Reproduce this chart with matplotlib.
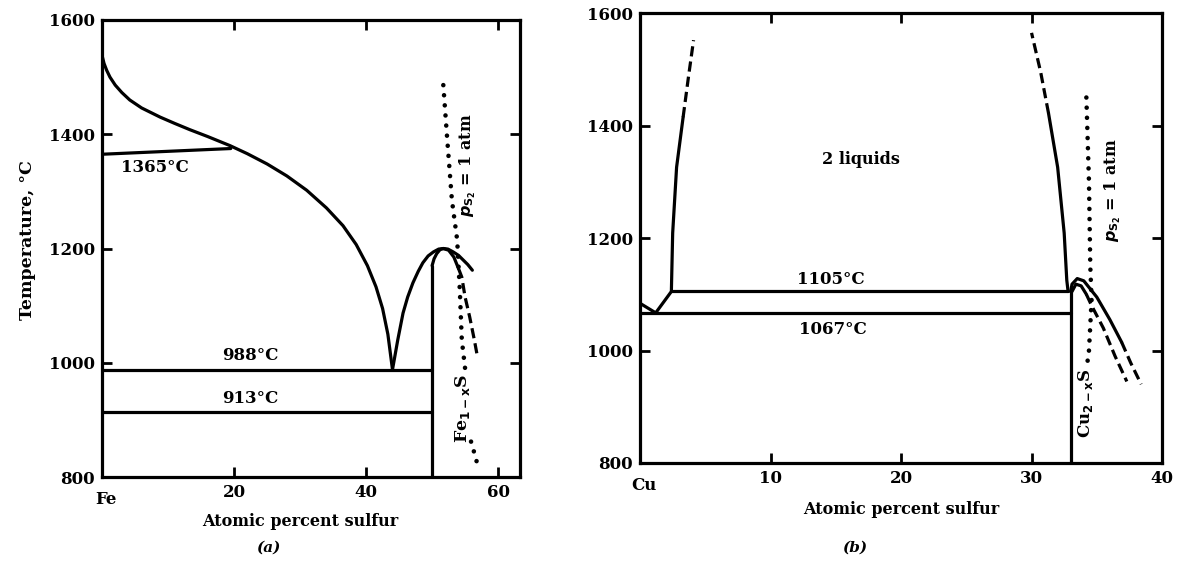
import numpy as np
import matplotlib.pyplot as plt

plt.rcParams['font.family'] = ['DejaVu Serif']
plt.rcParams['font.weight'] = 'bold'

# ---- (a) Fe-S ----
fe_liq_x = [0, 0.3, 0.7, 1.2, 2, 3, 4.2, 6, 8.8, 11, 13.3, 16, 19.4, 22, 25, 28,
            31, 34, 36.5, 38.5, 40.2, 41.5, 42.5, 43.3, 44]
fe_liq_t = [1538, 1524, 1512, 1500, 1486, 1473, 1460, 1446, 1430, 1419, 1408, 1396,
            1380, 1366, 1348, 1327, 1302, 1271, 1240, 1207, 1170, 1133, 1095, 1050, 988]
fes_liq_x = [44, 44.8, 45.6, 46.3, 47.1, 47.9, 48.6, 49.4, 50.2, 51, 51.7,
             52.4, 53.2, 54, 54.7, 55.4, 56.1]
fes_liq_t = [988, 1040, 1087, 1115, 1140, 1160, 1175, 1187, 1194, 1199, 1200,
             1199, 1194, 1188, 1180, 1172, 1162]
fes_sol_x = [50, 50.3, 50.7, 51.2, 51.7]
fes_sol_t = [1170, 1182, 1191, 1198, 1200]
fes_right_x = [51.7, 52.5, 53.3, 54.0]
fes_right_t = [1200, 1197, 1185, 1165]
fes_right_dash_x = [54.0, 54.5, 55.0, 55.7, 56.4, 56.8]
fes_right_dash_t = [1165, 1150, 1115, 1080, 1040, 1015]
fe_iso_t = [1365, 988, 913]
fe_iso_x0 = [0, 0, 0]
fe_iso_x1 = [19.5, 50, 50]
fe_iso_t1 = [1375, 988, 913]
fes_x = 50
fes_top = 1170
fe_ps2_x = [51.7, 52.3, 53.0, 53.8, 54.2, 54.5, 55.0]
fe_ps2_t = [1486, 1390, 1285, 1215, 1127, 1040, 990]
fe_ps2_low_x = [55.9, 56.7, 57.0]
fe_ps2_low_t = [862, 830, 812]

# ---- (b) Cu-S ----
cu_left_x = [0, 1.2, 2.4, 2.5, 2.8, 3.3]
cu_left_t = [1084, 1067, 1105, 1209, 1326, 1415]
cu_left_dash_x = [3.3, 3.7, 4.1]
cu_left_dash_t = [1415, 1485, 1552]
cu_right_x = [32.8, 32.7, 32.5, 32.0, 31.3]
cu_right_t = [1105, 1125, 1209, 1326, 1422]
cu_right_dash_x = [31.3, 30.7, 30.0]
cu_right_dash_t = [1422, 1495, 1565]
cu_iso_t = [1105, 1067]
cu_iso_x0 = [2.4, 0]
cu_iso_x1 = [32.8, 33.0]
cu2s_x = 33.0
cu2s_top = 1110
cu2s_liq_x = [33.0, 33.1, 33.5, 34.0, 35.0, 36.0, 36.9]
cu2s_liq_t = [1105, 1118, 1128, 1124, 1095, 1055, 1015]
cu2s_liq_dash_x = [36.9, 37.6, 38.4]
cu2s_liq_dash_t = [1015, 978, 940]
cu2s_sol_x = [33.1, 33.4, 33.8, 34.2]
cu2s_sol_t = [1105, 1118, 1115, 1100]
cu2s_sol_dash_x = [34.2, 34.6, 35.5, 36.4, 37.3]
cu2s_sol_dash_t = [1100, 1080, 1040, 990, 945]
cu_ps2_x = [34.2, 34.4, 34.5, 34.6, 34.4, 34.2]
cu_ps2_t = [1450, 1300, 1150, 1090, 1000, 965]

lw = 2.3
dots = dict(color='black', lw=3.3, linestyle=(0, (0.01, 2.2)), dash_capstyle='round')
dashes = dict(color='black', lw=lw, linestyle=(0, (3.2, 1.6)))
solid = dict(color='black', lw=lw, solid_capstyle='round', solid_joinstyle='round')

fig = plt.figure(figsize=(11.77, 5.73), dpi=100)
ax1 = fig.add_axes([0.0867, 0.1675, 0.355, 0.7976])
ax2 = fig.add_axes([0.5438, 0.192, 0.4435, 0.785])

# panel (a)
ax1.plot(fe_liq_x, fe_liq_t, **solid)
ax1.plot(fes_liq_x, fes_liq_t, **solid)
ax1.plot(fes_sol_x, fes_sol_t, **solid)
ax1.plot(fes_right_x, fes_right_t, **solid)
ax1.plot(fes_right_dash_x, fes_right_dash_t, **dashes)
for x0, x1, t0, t1 in zip(fe_iso_x0, fe_iso_x1, fe_iso_t, fe_iso_t1):
    ax1.plot([x0, x1], [t0, t1], **solid)
ax1.plot([fes_x, fes_x], [800, fes_top], **solid)
ax1.plot(fe_ps2_x, fe_ps2_t, **dots)
ax1.plot(fe_ps2_low_x, fe_ps2_low_t, **dots)

ax1.text(8, 1342, '1365°C', fontsize=12, ha='center', va='center')
ax1.text(22.4, 1012, '988°C', fontsize=12, ha='center', va='center')
ax1.text(22.4, 938, '913°C', fontsize=12, ha='center', va='center')
ax1.text(55.4, 1345, r'$p_{\mathbf{S_2}}$ = 1 atm', fontsize=11.5, rotation=90,
         ha='center', va='center')
ax1.text(54.6, 920, r'Fe$_{\mathbf{1-x}}$S', fontsize=12.5, rotation=90,
         ha='center', va='center')

ax1.set_xlim(0, 63.3)
ax1.set_ylim(800, 1600)
ax1.set_xticks([0, 20, 40, 60])
ax1.set_xticklabels(['', '20', '40', '60'])
ax1.annotate('Fe', (0, 800), xytext=(3, -10), textcoords='offset points',
             ha='center', va='top', fontsize=12, annotation_clip=False)

# panel (b)
ax2.plot(cu_left_x, cu_left_t, **solid)
ax2.plot(cu_left_dash_x, cu_left_dash_t, **dashes)
ax2.plot(cu_right_x, cu_right_t, **solid)
ax2.plot(cu_right_dash_x, cu_right_dash_t, **dashes)
for x0, x1, t in zip(cu_iso_x0, cu_iso_x1, cu_iso_t):
    ax2.plot([x0, x1], [t, t], **solid)
ax2.plot([cu2s_x, cu2s_x], [800, cu2s_top], **solid)
ax2.plot(cu2s_liq_x, cu2s_liq_t, **solid)
ax2.plot(cu2s_liq_dash_x, cu2s_liq_dash_t, **dashes)
ax2.plot(cu2s_sol_x, cu2s_sol_t, **solid)
ax2.plot(cu2s_sol_dash_x, cu2s_sol_dash_t, **dashes)
ax2.plot(cu_ps2_x, cu_ps2_t, **dots)

ax2.text(16.9, 1339, '2 liquids', fontsize=11.5, ha='center', va='center')
ax2.text(14.6, 1127, '1105°C', fontsize=12, ha='center', va='center')
ax2.text(14.8, 1038, '1067°C', fontsize=12, ha='center', va='center')
ax2.text(36.2, 1285, r'$p_{\mathbf{S_2}}$ = 1 atm', fontsize=11.5, rotation=90,
         ha='center', va='center')
ax2.text(34.1, 906, r'Cu$_{\mathbf{2-x}}$S', fontsize=12, rotation=90,
         ha='center', va='center')

ax2.set_xlim(0, 40)
ax2.set_ylim(800, 1600)
ax2.set_xticks([0, 10, 20, 30, 40])
ax2.set_xticklabels(['', '10', '20', '30', '40'])
ax2.annotate('Cu', (0, 800), xytext=(3, -10), textcoords='offset points',
             ha='center', va='top', fontsize=12, annotation_clip=False)

for ax in (ax1, ax2):
    ax.set_yticks([800, 1000, 1200, 1400, 1600])
    ax.tick_params(direction='in', length=7, width=2, top=True, right=True,
                   labelsize=12, pad=5)
    for s in ax.spines.values():
        s.set_linewidth(2.3)

fig.text(28 / 1177, 1 - 240 / 573, 'Temperature, °C', rotation=90,
         ha='center', va='center', fontsize=12.5)
fig.text(300 / 1177, 1 - 521 / 573, 'Atomic percent sulfur',
         ha='center', va='center', fontsize=11.5)
fig.text(901 / 1177, 1 - 510 / 573, 'Atomic percent sulfur',
         ha='center', va='center', fontsize=11.5)
fig.text(268 / 1177, 1 - 548 / 573, '(a)', style='italic',
         ha='center', va='center', fontsize=11)
fig.text(855 / 1177, 1 - 548 / 573, '(b)', style='italic',
         ha='center', va='center', fontsize=11)

fig.savefig('out.png', dpi=100)
